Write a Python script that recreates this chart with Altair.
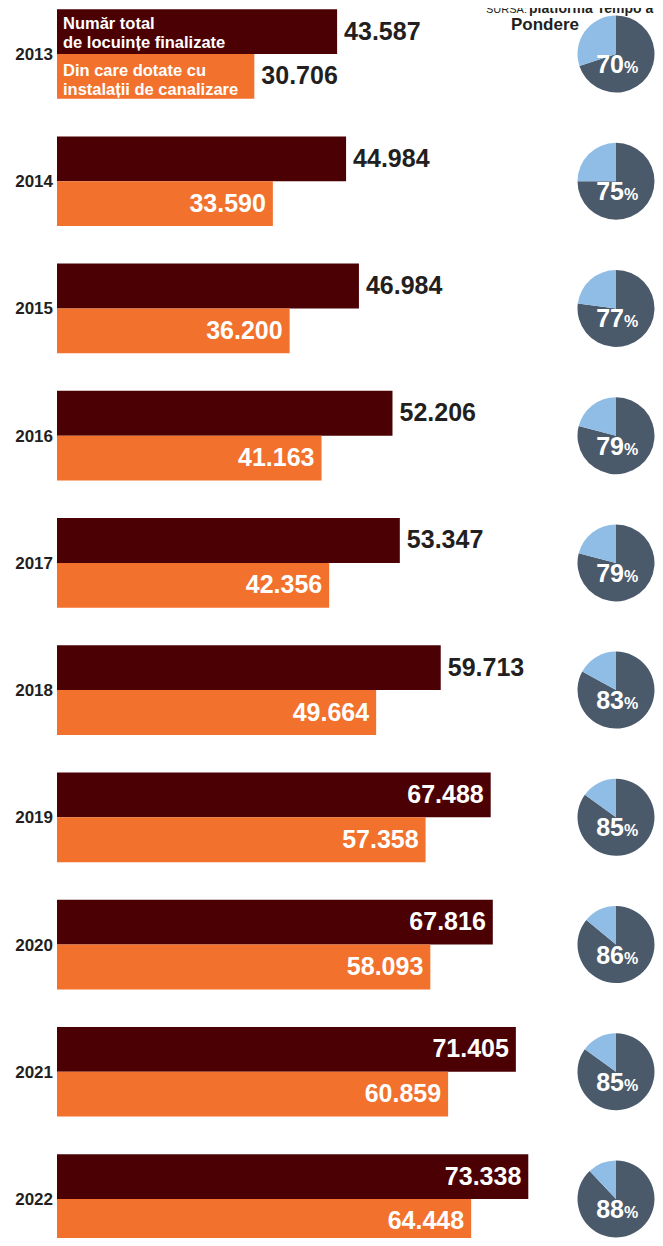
import altair as alt
import pandas as pd

years = [2013, 2014, 2015, 2016, 2017, 2018, 2019, 2020, 2021, 2022]
total = [43587, 44984, 46984, 52206, 53347, 59713, 67488, 67816, 71405, 73338]
sewer = [30706, 33590, 36200, 41163, 42356, 49664, 57358, 58093, 60859, 64448]
share = [70, 75, 77, 79, 79, 83, 85, 86, 85, 88]
legend_total = "Număr total\nde locuințe finalizate"
legend_sewer = "Din care dotate cu\ninstalații de canalizare"
source_lead = "SURSA:"
source_name = "platforma Tempo a INS"
share_title = "Pondere"

MAROON = "#4b0004"
ORANGE = "#f2712c"
SLATE = "#4a5a6b"
LIGHT = "#8fbde5"
INK = "#231f20"
FONT = "Liberation Sans, Arial, sans-serif"
HALF = 0.3525  # share of a year-row taken by each bar


def fmt(v):
    return f"{v:,}".replace(",", ".")


rows = []
for y, t, s in zip(years, total, sewer):
    rows.append({"year": y, "s": "total", "value": t, "label": fmt(t)})
    rows.append({"year": y, "s": "sewer", "value": s, "label": fmt(s)})
bars = pd.DataFrame(rows)

pie_rows = []
for y, p in zip(years, share):
    pie_rows.append({"year": y, "part": "in", "share": p})
    pie_rows.append({"year": y, "part": "rest", "share": p})
pie = pd.DataFrame(pie_rows)
pct = pd.DataFrame({"year": years, "share": share})
yr = pd.DataFrame({"year": years})

yscale = alt.Scale(domain=[2013, 2022], range=[46, 1191], nice=False, zero=False)
xscale = alt.Scale(domain=[0, 94300], range=[49, 655], nice=False)
cscale = alt.Scale(domain=["total", "sewer", "in", "rest"], range=[MAROON, ORANGE, SLATE, LIGHT])

X = alt.X("value:Q", scale=xscale, axis=None)

base = alt.Chart(bars).transform_calculate(
    y0=f"datum.s == 'total' ? datum.year - {HALF} : datum.year",
    y1=f"datum.s == 'total' ? datum.year : datum.year + {HALF}",
    ym=f"datum.s == 'total' ? datum.year - {HALF / 2} : datum.year + {HALF / 2}",
    out="datum.year == 2013 || (datum.s == 'total' && datum.value < 62000)",
)

bar_layer = base.mark_bar(stroke=None).encode(
    y=alt.Y("y0:Q", scale=yscale, axis=None),
    y2="y1:Q",
    x=X,
    x2=alt.datum(0),
    color=alt.Color("s:N", scale=cscale, legend=None),
)

YM = alt.Y("ym:Q", scale=yscale, axis=None, stack=None)

out_labels = base.transform_filter("datum.out").mark_text(
    align="left", baseline="middle", dx=7, font=FONT, fontSize=25,
    fontWeight="bold", color=INK
).encode(y=YM, x=X, text="label:N")

in_labels = base.transform_filter("!datum.out").mark_text(
    align="right", baseline="middle", dx=-7, font=FONT, fontSize=25,
    fontWeight="bold", color="white"
).encode(y=YM, x=X, text="label:N")

YY = alt.Y("year:Q", scale=yscale, axis=None, stack=None)

year_labels = alt.Chart(yr).mark_text(
    align="right", baseline="middle", x=45, dy=1, font=FONT, fontSize=17,
    fontWeight="bold", color=INK
).encode(y=YY, text=alt.Text("year:Q", format="d"))

first = alt.Chart(yr).transform_filter("datum.year == 2013")
leg_total = first.transform_calculate(t=f"{legend_total!r}").mark_text(
    align="left", baseline="middle", x=55, dy=-30, font=FONT, fontSize=16.5,
    fontWeight="bold", color="white", lineBreak="\n", lineHeight=18.5
).encode(y=YY, text="t:N")
leg_sewer = first.transform_calculate(t=f"{legend_sewer!r}").mark_text(
    align="left", baseline="middle", x=55, dy=17, font=FONT, fontSize=16.5,
    fontWeight="bold", color="white", lineBreak="\n", lineHeight=18.5
).encode(y=YY, text="t:N")

arcs = alt.Chart(pie).transform_calculate(
    t0="datum.part == 'in' ? 0 : 2*PI*datum.share/100",
    t1="datum.part == 'in' ? 2*PI*datum.share/100 : 2*PI",
).mark_arc(radius=38.5, x=608, dy=-7, stroke=None).encode(
    y=YY,
    theta=alt.Theta("t0:Q", scale=None),
    theta2="t1:Q",
    color=alt.Color("part:N", scale=cscale, legend=None),
)

pct_num = alt.Chart(pct).mark_text(
    align="right", baseline="alphabetic", x=616, dy=19, font=FONT, fontSize=25,
    fontWeight="bold", color="white"
).encode(y=YY, text=alt.Text("share:Q", format="d"))

pct_sign = alt.Chart(pct).mark_text(
    align="left", baseline="alphabetic", x=616, dy=19, font=FONT, fontSize=16,
    fontWeight="bold", color="white", text="%"
).encode(y=YY)

one = pd.DataFrame({"k": [0]})
pondere = alt.Chart(one).mark_text(
    align="right", baseline="middle", font=FONT, fontSize=17, fontWeight="bold",
    color=INK, text=share_title
).encode(x=alt.value(571), y=alt.value(17))

src_a = alt.Chart(one).mark_text(
    align="left", baseline="alphabetic", font=FONT, fontSize=11, color=INK, text=source_lead
).encode(x=alt.value(478), y=alt.value(5))
src_b = alt.Chart(one).mark_text(
    align="left", baseline="alphabetic", font=FONT, fontSize=14, fontWeight="bold",
    color=INK, text=source_name
).encode(x=alt.value(521), y=alt.value(5))

chart = alt.layer(
    bar_layer, out_labels, in_labels, year_labels, leg_total, leg_sewer,
    arcs, pct_num, pct_sign, pondere, src_a, src_b
).properties(
    width=647, height=1230,
    padding=0,
    background="white",
    autosize=alt.AutoSizeParams(type="none"),
).configure_view(stroke=None)

chart.save("out.html", embed_options={"renderer": "svg", "actions": False})
